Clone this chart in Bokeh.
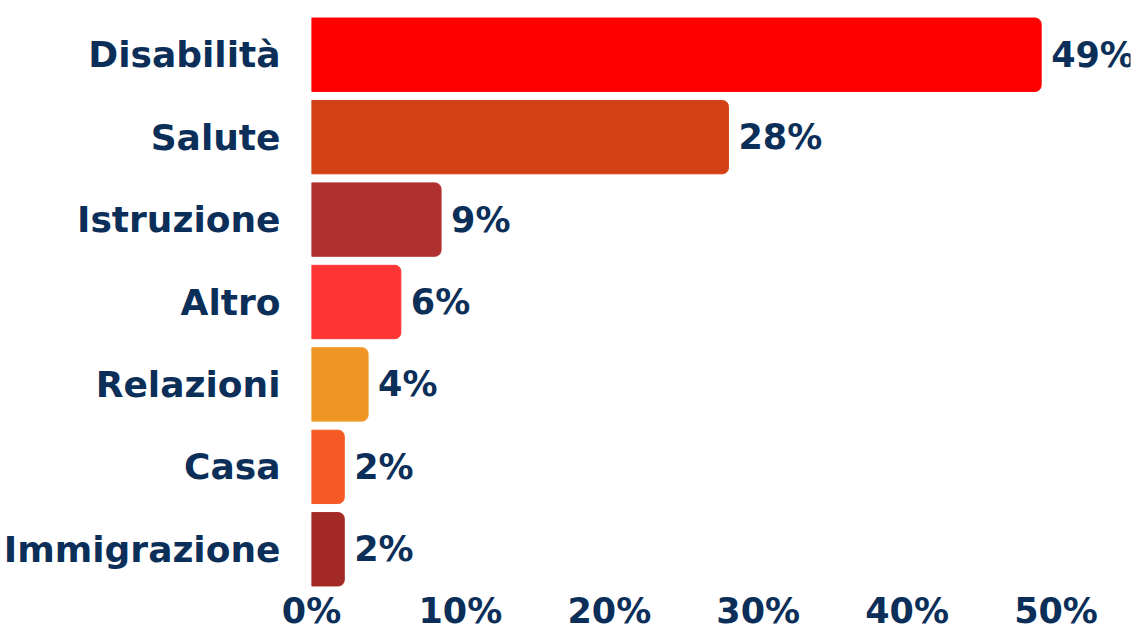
from bokeh.plotting import figure
from bokeh.models import ColumnDataSource, FactorRange, Range1d, NumeralTickFormatter
from bokeh.core.properties import value
from bokeh.embed import file_html
from bokeh.resources import INLINE

categories = ["Disabilità", "Salute", "Istruzione", "Altro", "Relazioni", "Casa", "Immigrazione"]
values = [49.0, 28.0, 8.7, 6.0, 3.8, 2.2, 2.2]
labels = ["49%", "28%", "9%", "6%", "4%", "2%", "2%"]
colors = ["#FF0000", "#D24115", "#B03030", "#FF3535", "#EF9523", "#F55A24", "#A32A25"]
x_ticks = [0, 10, 20, 30, 40, 50]

TEXT = "#0B2F59"
FONT = "DejaVu Sans"
SIZE = "36px"

src = ColumnDataSource(dict(cat=categories, val=values, lab=labels, col=colors))

p = figure(width=1136, height=633, output_backend="svg", toolbar_location=None,
           y_range=FactorRange(factors=list(reversed(categories))),
           x_range=Range1d(0, 55),
           min_border_left=12, min_border_right=6, min_border_top=13, min_border_bottom=0)

p.hbar(y="cat", right="val", left=0, height=0.89, color="col", source=src,
       border_radius=(0, 6, 6, 0))
p.text(x="val", y="cat", text="lab", source=src, x_offset=10,
       text_align="left", text_baseline="middle", text_color=TEXT,
       text_font=value(FONT), text_font_style="bold", text_font_size="35px")

p.outline_line_color = None
p.background_fill_color = "white"
p.border_fill_color = "white"
p.xgrid.grid_line_color = None
p.ygrid.grid_line_color = None

for ax in (p.xaxis[0], p.yaxis[0]):
    ax.axis_line_color = None
    ax.major_tick_line_color = None
    ax.minor_tick_line_color = None
    ax.major_tick_out = 0
    ax.major_tick_in = 0
    ax.major_label_text_color = TEXT
    ax.major_label_text_font = FONT
    ax.major_label_text_font_style = "bold"
    ax.major_label_text_font_size = SIZE

p.yaxis.major_label_standoff = 31
p.xaxis.major_label_standoff = 0
p.xaxis.major_label_text_font_size = "35px"
p.xaxis.ticker = x_ticks
p.xaxis.formatter = NumeralTickFormatter(format="0")
p.xaxis.major_label_overrides = {t: f"{t}%" for t in x_ticks}

open("out.html", "w").write(file_html(p, INLINE))
